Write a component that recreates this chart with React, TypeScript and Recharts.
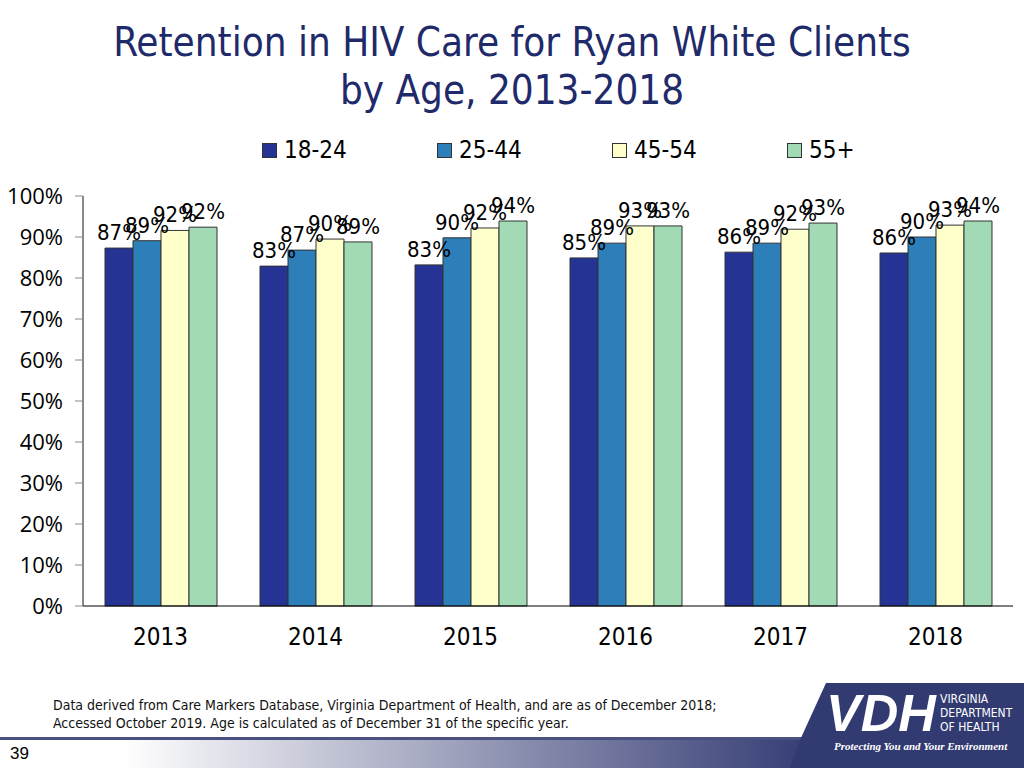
import { Bar, BarChart, LabelList, XAxis, YAxis } from 'recharts';

const years = ['2013', '2014', '2015', '2016', '2017', '2018'];
const age18to24 = [87.3, 82.9, 83.2, 84.9, 86.3, 86.1];
const age25to44 = [89.1, 86.8, 89.8, 88.5, 88.5, 90.0];
const age45to54 = [91.6, 89.5, 92.2, 92.7, 91.9, 92.9];
const age55plus = [92.4, 88.8, 93.9, 92.7, 93.4, 93.9];
const yTicks = [0, 10, 20, 30, 40, 50, 60, 70, 80, 90, 100];

const series = [
  { key: 'a', name: '18-24', color: '#253494' },
  { key: 'b', name: '25-44', color: '#2c7fb8' },
  { key: 'c', name: '45-54', color: '#ffffcc' },
  { key: 'd', name: '55+', color: '#a1dab4' }
];

const data = years.map((year, i) => ({
  year,
  a: age18to24[i],
  b: age25to44[i],
  c: age45to54[i],
  d: age55plus[i]
}));

const font = "'DejaVu Sans Condensed', 'Liberation Sans Narrow', 'Open Sans', sans-serif";
const navy = '#1f2a6b';

function LegendRow() {
  return (
    <div style={{ position: 'absolute', top: 136, left: 262, display: 'flex' }}>
      {series.map((s) => (
        <div key={s.key} style={{ width: 175, display: 'flex', alignItems: 'center' }}>
          <span
            style={{
              width: 13,
              height: 13,
              background: s.color,
              border: '1px solid #333',
              marginRight: 7
            }}
          />
          <span style={{ fontSize: 24, color: '#000', fontFamily: font }}>{s.name}</span>
        </div>
      ))}
    </div>
  );
}

export default function App() {
  return (
    <div style={{ position: 'fixed', left: 0, top: 0, width: 1024, height: 768, background: '#fff', overflow: 'hidden' }}>
      <div
        style={{
          position: 'absolute',
          top: 18,
          width: 1024,
          textAlign: 'center',
          color: navy,
          fontFamily: font,
          fontSize: 40,
          lineHeight: '48px'
        }}
      >
        Retention in HIV Care for Ryan White Clients
        <br />
        by Age, 2013-2018
      </div>

      <LegendRow />

      <div style={{ position: 'absolute', left: 0, top: 0 }}>
        <BarChart
          width={1024}
          height={670}
          data={data}
          margin={{ top: 196, right: 11, bottom: 0, left: 0 }}
          barSize={28}
          barGap={0}
        >
          <YAxis
            width={83}
            domain={[0, 100]}
            ticks={yTicks}
            interval={0}
            tickFormatter={(v: number) => `${v}%`}
            axisLine={{ stroke: '#888', strokeWidth: 2 }}
            tickLine={{ stroke: '#888' }}
            tickSize={8}
            tickMargin={12}
            tick={{ fill: '#000', fontSize: 22, fontFamily: "'Open Sans', sans-serif" }}
          />
          <XAxis
            dataKey="year"
            height={64}
            axisLine={{ stroke: '#000' }}
            tickLine={false}
            tickSize={0}
            tickMargin={22}
            tick={{ fill: '#000', fontSize: 24, fontFamily: font }}
          />
          {series.map((s) => (
            <Bar key={s.key} dataKey={s.key} name={s.name} fill={s.color} stroke="#333" strokeWidth={1} isAnimationActive={false}>
              <LabelList
                dataKey={s.key}
                position="top"
                offset={8}
                formatter={(v: number) => `${Math.round(v)}%`}
                style={{ fill: '#000', fontSize: 22, fontFamily: font }}
              />
            </Bar>
          ))}
        </BarChart>
      </div>

      <div
        style={{
          position: 'absolute',
          left: 53,
          top: 696,
          fontSize: 14,
          lineHeight: '18px',
          color: '#111',
          fontFamily: font
        }}
      >
        Data derived from Care Markers Database, Virginia Department of Health, and are as of December 2018;
        <br />
        Accessed October 2019. Age is calculated as of December 31 of the specific year.
      </div>

      <svg width={1024} height={768} style={{ position: 'absolute', left: 0, top: 0 }}>
        <defs>
          <linearGradient id="band" x1="0" x2="1" y1="0" y2="0">
            <stop offset="0.12" stopColor="#ffffff" />
            <stop offset="0.8" stopColor="#323a72" />
          </linearGradient>
        </defs>
        <rect x={0} y={740} width={1024} height={28} fill="url(#band)" />
        <rect x={0} y={737} width={820} height={3} fill="#4a5080" />
        <polygon points="826,683 1024,683 1024,768 790,768 800,740" fill="#323a72" />
        <text x={826} y={731} fill="#fff" fontSize={52} fontWeight={700} fontStyle="italic" fontFamily="'Liberation Sans', sans-serif">
          VDH
        </text>
        <text x={940} y={703} fill="#fff" fontSize={12} fontFamily={font}>VIRGINIA</text>
        <text x={940} y={717} fill="#fff" fontSize={12} fontFamily={font}>DEPARTMENT</text>
        <text x={940} y={731} fill="#fff" fontSize={12} fontFamily={font}>OF HEALTH</text>
        <text x={834} y={750} fill="#fff" fontSize={11} fontStyle="italic" fontWeight={700} fontFamily="'Liberation Serif', serif">
          Protecting You and Your Environment
        </text>
        <text x={10} y={759} fill="#000" fontSize={17} fontFamily="'Liberation Sans Narrow', 'Liberation Sans', sans-serif">39</text>
      </svg>
    </div>
  );
}
